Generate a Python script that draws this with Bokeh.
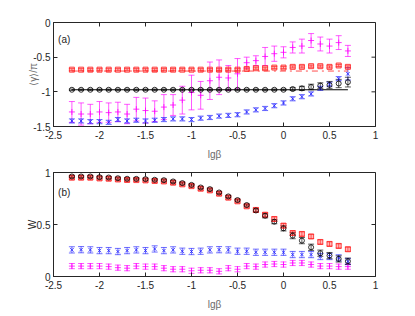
import math
from bokeh.plotting import figure
from bokeh.layouts import column
from bokeh.models import ColumnDataSource, Whisker, TeeHead, FixedTicker, Label
from bokeh.embed import file_html
from bokeh.resources import INLINE

# ---- data ----
lg_beta = [-2.3, -2.2, -2.1, -2.0, -1.9, -1.8, -1.7, -1.6, -1.5, -1.4,
           -1.3, -1.2, -1.1, -1.0, -0.9, -0.8, -0.7, -0.6, -0.5, -0.4,
           -0.3, -0.2, -0.1, 0.0, 0.1, 0.2, 0.3, 0.4, 0.5, 0.6, 0.7]

# panel (a): <gamma>/pi
g_red = [-0.68] * 19 + [-0.67, -0.66, -0.66, -0.65, -0.65, -0.64, -0.64, -0.63, -0.63, -0.64, -0.62, -0.64]
g_red_err = [0.015] * 31
g_black = [-0.97] * 24 + [-0.96, -0.95, -0.93, -0.91, -0.90, -0.88, -0.86]
g_black_err = [0.01] * 24 + [0.02, 0.03, 0.04, 0.04, 0.05, 0.06, 0.07]
g_mag = [-1.29, -1.32, -1.32, -1.29, -1.30, -1.29, -1.32, -1.25, -1.27, -1.28,
         -1.22, -1.19, -1.12, -1.01, -1.05, -0.84, -0.79, -0.80, -0.74, -0.58,
         -0.55, -0.49, -0.45, -0.43, -0.36, -0.34, -0.26, -0.31, -0.34, -0.29, -0.41]
g_mag_err = [0.15, 0.16, 0.14, 0.15, 0.14, 0.14, 0.14, 0.17, 0.18, 0.15,
             0.18, 0.15, 0.20, 0.25, 0.20, 0.27, 0.25, 0.18, 0.22, 0.08,
             0.07, 0.13, 0.11, 0.08, 0.08, 0.10, 0.10, 0.10, 0.10, 0.10, 0.08]
g_blue = [-1.42, -1.42, -1.43, -1.43, -1.44, -1.40, -1.42, -1.41, -1.42, -1.41,
          -1.40, -1.39, -1.39, -1.40, -1.38, -1.37, -1.35, -1.34, -1.33, -1.29,
          -1.26, -1.24, -1.20, -1.16, -1.10, -1.07, -1.03, -0.95, -0.89, -0.81, -0.74]
g_blue_err = [0.03] * 30 + [0.09]
ref_x = [-2.3, 0.7]
ref_red = [-0.70, -0.70]
ref_black = [-0.97, -0.97]

# panel (b): W
w_black = [0.962, 0.962, 0.962, 0.955, 0.952, 0.945, 0.940, 0.939, 0.936, 0.930,
           0.926, 0.914, 0.898, 0.881, 0.856, 0.840, 0.808, 0.770, 0.735, 0.687,
           0.635, 0.584, 0.527, 0.463, 0.393, 0.345, 0.281, 0.224, 0.201, 0.169, 0.147]
w_black_err = [0.01] * 20 + [0.015, 0.02, 0.02, 0.025, 0.03, 0.03, 0.03, 0.03, 0.03, 0.03, 0.03]
w_red = [0.950, 0.950, 0.950, 0.943, 0.940, 0.933, 0.928, 0.927, 0.924, 0.918,
         0.914, 0.902, 0.886, 0.869, 0.844, 0.828, 0.796, 0.758, 0.723, 0.675,
         0.640, 0.594, 0.553, 0.489, 0.418, 0.409, 0.385, 0.332, 0.313, 0.294, 0.262]
w_red_err = [0.015] * 20 + [0.02] * 11
w_blue = [0.256, 0.258, 0.256, 0.249, 0.249, 0.240, 0.249, 0.256, 0.249, 0.265,
          0.249, 0.256, 0.243, 0.240, 0.243, 0.256, 0.258, 0.256, 0.243, 0.243,
          0.233, 0.233, 0.233, 0.233, 0.211, 0.211, 0.211, 0.192, 0.192, 0.179, 0.144]
w_blue_err = [0.03] * 31
w_mag = [0.100, 0.100, 0.100, 0.100, 0.095, 0.085, 0.080, 0.100, 0.095, 0.095,
         0.080, 0.070, 0.070, 0.055, 0.060, 0.060, 0.050, 0.080, 0.070, 0.100,
         0.095, 0.115, 0.120, 0.115, 0.130, 0.130, 0.115, 0.100, 0.100, 0.095, 0.095]
w_mag_err = [0.025] * 31

x_ticks = [-2.5, -2, -1.5, -1, -0.5, 0, 0.5, 1]
x_tick_labels = ["-2.5", "-2", "-1.5", "-1", "-0.5", "0", "0.5", "1"]
ya_ticks = [-1.5, -1, -0.5, 0]
ya_tick_labels = ["-1.5", "-1", "-0.5", "0"]
yb_ticks = [0, 0.5, 1]
yb_tick_labels = ["0", "0.5", "1"]

RED = "#ff2020"
BLACK = "#000000"
BLUE = "#2020ff"
MAG = "#ff00ff"
FONT = "Liberation Sans"
TICKCOL = "#262626"
LABCOL = "#6a6a6a"
X_RANGE = (-2.5, 1)


def style_axes(p, xt, xl, yt, yl, ylabel, yr, ylab_standoff):
    xa = p.xaxis[0]
    ya = p.yaxis[0]
    xa.ticker = FixedTicker(ticks=xt)
    xa.major_label_overrides = {t: l for t, l in zip(xt, xl)}
    ya.ticker = FixedTicker(ticks=yt)
    ya.major_label_overrides = {t: l for t, l in zip(yt, yl)}
    for ax in (xa, ya):
        ax.major_tick_in = 4
        ax.major_tick_out = 0
        ax.minor_tick_in = 0
        ax.minor_tick_out = 0
        ax.axis_line_color = TICKCOL
        ax.major_tick_line_color = TICKCOL
        ax.major_label_text_font = FONT
        ax.major_label_text_font_size = "10px"
        ax.major_label_text_color = TICKCOL
        ax.axis_label_text_font = FONT
        ax.axis_label_text_font_size = "10px"
        ax.axis_label_text_font_style = "normal"
        ax.axis_label_text_color = LABCOL
    xa.major_label_standoff = 4
    xa.axis_label_standoff = 7
    ya.major_label_standoff = 3
    ya.axis_label_standoff = ylab_standoff
    xa.axis_label = "lgβ"
    ya.axis_label = ylabel
    p.xgrid.visible = False
    p.ygrid.visible = False
    p.outline_line_color = TICKCOL
    p.outline_line_width = 1
    # mirrored inward ticks on the top and right frame edges
    p.ray(x=xt, y=[yr[1]] * len(xt), length=4, length_units="screen",
          angle=-math.pi / 2, line_color=TICKCOL, line_width=1)
    p.ray(x=[X_RANGE[1]] * len(yt), y=yt, length=4, length_units="screen",
          angle=math.pi, line_color=TICKCOL, line_width=1)


def errbar(p, x, y, e, color, marker, size, fill_alpha=0.0):
    src = ColumnDataSource(dict(x=x, y=y,
                                lo=[a - b for a, b in zip(y, e)],
                                hi=[a + b for a, b in zip(y, e)]))
    w = Whisker(source=src, base="x", lower="lo", upper="hi",
                line_color=color, line_alpha=0.65, line_width=1,
                upper_head=TeeHead(size=6, line_color=color, line_alpha=0.65, line_width=1),
                lower_head=TeeHead(size=6, line_color=color, line_alpha=0.65, line_width=1))
    p.add_layout(w)
    p.scatter("x", "y", source=src, marker=marker, size=size, line_color=color,
              line_alpha=0.8, line_width=1, fill_color=color, fill_alpha=fill_alpha)


def make_fig(yr, margin):
    p = figure(frame_width=322, frame_height=104,
               x_range=X_RANGE, y_range=yr, output_backend="svg",
               toolbar_location=None, min_border_left=34, min_border_right=10,
               min_border_top=8, min_border_bottom=28, margin=margin)
    p.background_fill_color = "white"
    p.border_fill_color = "white"
    return p


# ---- panel (a) ----
ya_range = (-1.5, 0)
p1 = make_fig(ya_range, (14, 0, 0, 19))
style_axes(p1, x_ticks, x_tick_labels, ya_ticks, ya_tick_labels, "⟨γ⟩/π", ya_range, -9)
p1.line(ref_x, ref_red, line_color=RED, line_dash="dashdot", line_width=1, line_alpha=0.8)
p1.line(ref_x, ref_black, line_color=BLACK, line_width=1)
errbar(p1, lg_beta, g_mag, g_mag_err, MAG, "cross", 6)
errbar(p1, lg_beta, g_blue, g_blue_err, BLUE, "x", 5)
errbar(p1, lg_beta, g_red, g_red_err, RED, "square", 5, 0.3)
errbar(p1, lg_beta, g_black, g_black_err, BLACK, "circle", 5)
p1.add_layout(Label(x=-2.45, y=-0.25, text="(a)", text_font=FONT, text_font_size="10px",
                    text_color=TICKCOL, text_baseline="middle", text_align="left"))

# ---- panel (b) ----
yb_range = (0, 1)
p2 = make_fig(yb_range, (2, 0, 0, 19))
style_axes(p2, x_ticks, x_tick_labels, yb_ticks, yb_tick_labels, "W", yb_range, -4)
p2.yaxis[0].axis_label_text_color = TICKCOL
errbar(p2, lg_beta, w_mag, w_mag_err, MAG, "cross", 6)
errbar(p2, lg_beta, w_blue, w_blue_err, BLUE, "x", 5)
errbar(p2, lg_beta, w_red, w_red_err, RED, "square", 5, 0.3)
errbar(p2, lg_beta, w_black, w_black_err, BLACK, "circle", 5)
p2.add_layout(Label(x=-2.45, y=0.81, text="(b)", text_font=FONT, text_font_size="10px",
                    text_color=TICKCOL, text_baseline="middle", text_align="left"))

layout = column(p1, p2, spacing=0)
open("out.html", "w").write(file_html(layout, INLINE))
